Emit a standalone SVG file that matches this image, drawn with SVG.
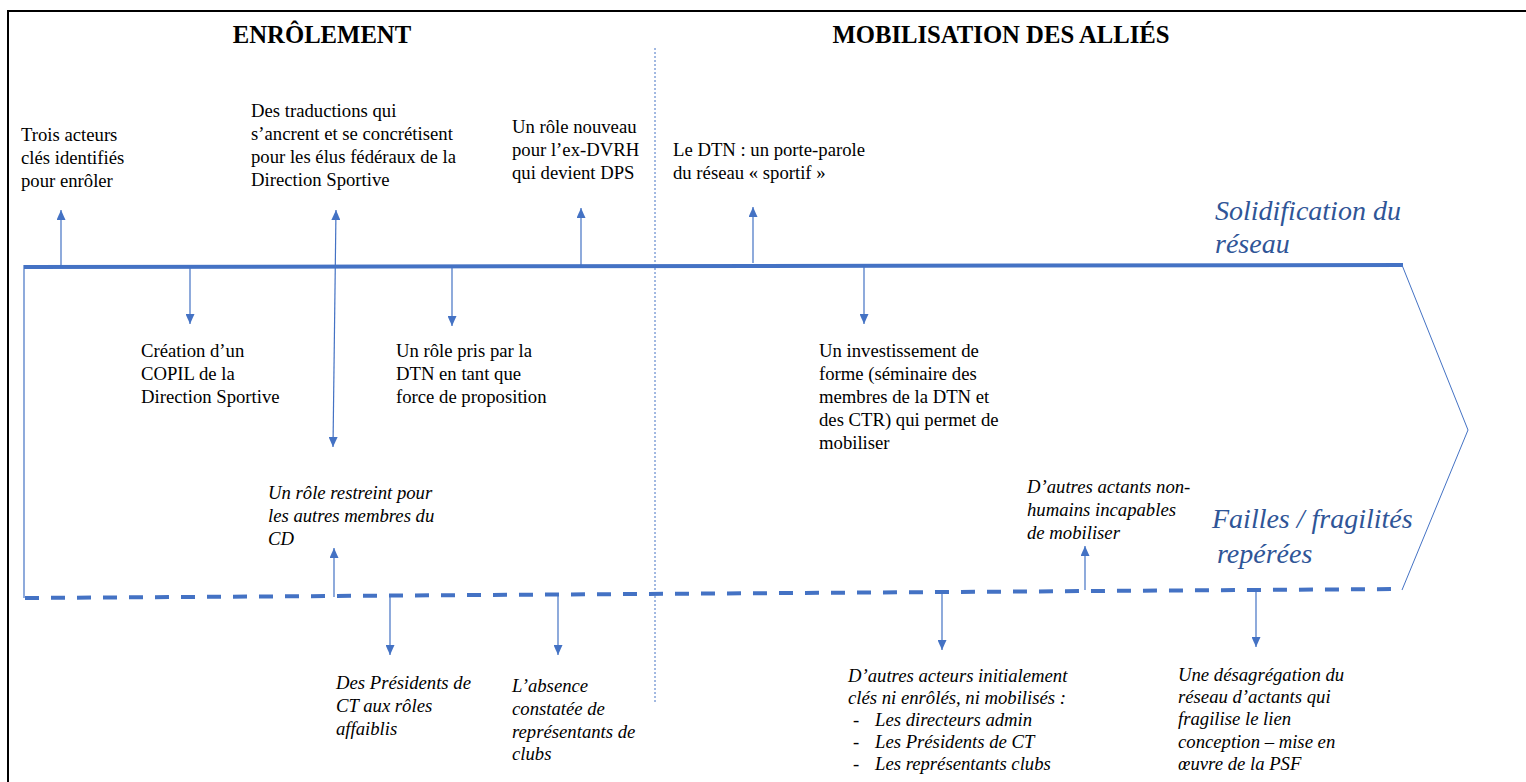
<svg xmlns="http://www.w3.org/2000/svg" width="1526" height="782" viewBox="0 0 1526 782">
<defs>
<marker id="ah" markerUnits="userSpaceOnUse" markerWidth="10" markerHeight="9" viewBox="0 0 10 9" refX="10" refY="4.5" orient="auto-start-reverse">
<path d="M0,0 L10,4.5 L0,9 z" fill="#4472C4"/>
</marker>
</defs>
<style>
.t{font-family:"Liberation Serif","Times New Roman",serif;font-size:18.7px;fill:#000}
.i{font-family:"Liberation Serif","Times New Roman",serif;font-size:18.7px;font-style:italic;fill:#000}
.h{font-family:"Liberation Serif","Times New Roman",serif;font-size:24.7px;font-weight:bold;fill:#000;text-anchor:middle}
.b{font-family:"Liberation Serif","Times New Roman",serif;font-size:28px;font-style:italic;fill:#2F5597}
.c{stroke:#4472C4;stroke-width:1.2;fill:none;marker-end:url(#ah)}
</style>
<rect width="1526" height="782" fill="#fff"/>
<path d="M8,782 L8,11 L1526,11" fill="none" stroke="#000" stroke-width="2"/>
<g id="titles">
<text class="h" x="322" y="43">ENRÔLEMENT</text>
<text class="h" x="1001" y="43">MOBILISATION DES ALLIÉS</text>
</g>
<g id="frame-lines" fill="none">
<line x1="655" y1="48" x2="655" y2="703" stroke="#4472C4" stroke-width="1" stroke-dasharray="2,2"/>
<line x1="24" y1="267" x2="1403" y2="265" stroke="#4472C4" stroke-width="4"/>
<line x1="24" y1="265" x2="24" y2="598" stroke="#4472C4" stroke-width="1.2"/>
<line x1="25" y1="598" x2="1403" y2="589" stroke="#4472C4" stroke-width="4" stroke-dasharray="14,12"/>
<polyline points="1402,265 1468,430 1402,590" stroke="#4472C4" stroke-width="1"/>
</g>
<g id="labels">
<text class="b" x="1215" y="220">Solidification du</text>
<text class="b" x="1215" y="253">réseau</text>
<text class="b" x="1212" y="528">Failles / fragilités</text>
<text class="b" x="1217" y="563">repérées</text>
</g>
<g id="connectors">
<line class="c" x1="61" y1="266" x2="61" y2="210"/>
<line class="c" x1="336" y1="210" x2="333" y2="447" style="marker-start:url(#ah)"/>
<line class="c" x1="581" y1="265" x2="581" y2="208"/>
<line class="c" x1="753" y1="263" x2="753" y2="207"/>
<line class="c" x1="190" y1="268" x2="190" y2="324"/>
<line class="c" x1="452" y1="268" x2="452" y2="326"/>
<line class="c" x1="864" y1="266" x2="864" y2="324"/>
<line class="c" x1="334" y1="597" x2="334" y2="548"/>
<line class="c" x1="390" y1="597" x2="390" y2="655"/>
<line class="c" x1="558" y1="595" x2="558" y2="655"/>
<line class="c" x1="1085" y1="590" x2="1085" y2="546"/>
<line class="c" x1="942" y1="592" x2="942" y2="650"/>
<line class="c" x1="1256" y1="590" x2="1256" y2="647"/>
</g>
<g id="n1"><text class="t" x="21" y="141">Trois acteurs</text><text class="t" x="21" y="164">clés identifiés</text><text class="t" x="21" y="187">pour enrôler</text></g>
<g id="n2"><text class="t" x="251" y="117">Des traductions qui</text><text class="t" x="251" y="140">s’ancrent et se concrétisent</text><text class="t" x="251" y="163">pour les élus fédéraux de la</text><text class="t" x="251" y="186">Direction Sportive</text></g>
<g id="n3"><text class="t" x="512" y="133">Un rôle nouveau</text><text class="t" x="512" y="156">pour l’ex-DVRH</text><text class="t" x="512" y="179">qui devient DPS</text></g>
<g id="n4"><text class="t" x="673" y="156">Le DTN : un porte-parole</text><text class="t" x="673" y="179">du réseau « sportif »</text></g>
<g id="n5"><text class="t" x="141" y="357">Création d’un</text><text class="t" x="141" y="380">COPIL de la</text><text class="t" x="141" y="403">Direction Sportive</text></g>
<g id="n6"><text class="t" x="396" y="357">Un rôle pris par la</text><text class="t" x="396" y="380">DTN en tant que</text><text class="t" x="396" y="403">force de proposition</text></g>
<g id="n7"><text class="t" x="819" y="357">Un investissement de</text><text class="t" x="819" y="380">forme (séminaire des</text><text class="t" x="819" y="403">membres de la DTN et</text><text class="t" x="819" y="426">des CTR) qui permet de</text><text class="t" x="819" y="449">mobiliser</text></g>
<g id="n8"><text class="i" x="268" y="499">Un rôle restreint pour</text><text class="i" x="268" y="522">les autres membres du</text><text class="i" x="268" y="545">CD</text></g>
<g id="n9"><text class="i" x="336" y="689">Des Présidents de</text><text class="i" x="336" y="712">CT aux rôles</text><text class="i" x="336" y="735">affaiblis</text></g>
<g id="n10"><text class="i" x="512" y="692">L’absence</text><text class="i" x="512" y="715">constatée de</text><text class="i" x="512" y="738">représentants de</text><text class="i" x="512" y="760">clubs</text></g>
<g id="n11"><text class="i" x="1027" y="493">D’autres actants non-</text><text class="i" x="1027" y="516">humains incapables</text><text class="i" x="1027" y="539">de mobiliser</text></g>
<g id="n12"><text class="i" x="848" y="682">D’autres acteurs initialement</text><text class="i" x="848" y="704">clés ni enrôlés, ni mobilisés :</text><text class="i" x="853" y="726">-</text><text class="i" x="875" y="726">Les directeurs admin</text><text class="i" x="853" y="748">-</text><text class="i" x="875" y="748">Les Présidents de CT</text><text class="i" x="853" y="770">-</text><text class="i" x="875" y="770">Les représentants clubs</text></g>
<g id="n13"><text class="i" x="1178" y="681">Une désagrégation du</text><text class="i" x="1178" y="703">réseau d’actants qui</text><text class="i" x="1178" y="725">fragilise le lien</text><text class="i" x="1178" y="748">conception – mise en</text><text class="i" x="1178" y="770">œuvre de la PSF</text></g>
</svg>
